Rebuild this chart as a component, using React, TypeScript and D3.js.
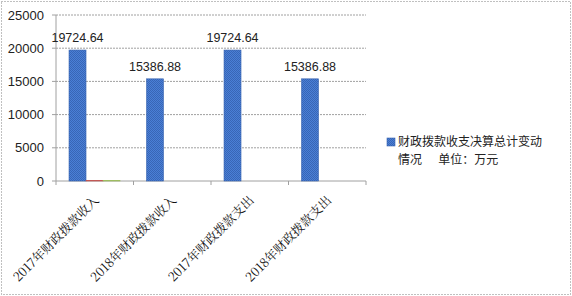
import React from "react";
import * as d3 from "d3";

const categories = ["2017年财政拨款收入", "2018年财政拨款收入", "2017年财政拨款支出", "2018年财政拨款支出"];
const seriesMain = [19724.64, 15386.88, 19724.64, 15386.88];
const seriesRed = [60, 0, 0, 0];
const seriesGreen = [50, 0, 0, 0];
const yTicks = [0, 5000, 10000, 15000, 20000, 25000];
const legendLines = ["财政拨款收支决算总计变动", "情况      单位：万元"];

const W = 572, H = 296;
const left = 56, right = 366, top = 15, bottom = 181;

export default function App() {
  const x = d3.scaleBand<string>().domain(categories).range([left, right]).paddingInner(0).paddingOuter(0);
  const y = d3.scaleLinear().domain([0, 25000]).range([bottom, top]);
  const bw = x.bandwidth();
  const inner = d3.scaleBand<number>().domain([0, 1, 2]).range([bw * 0.168, bw * 0.168 + 51]).padding(0);
  const series = [
    { values: seriesMain, fill: "#4677cf", stroke: "#3a64b0" },
    { values: seriesRed, fill: "#d07070", stroke: "#c0504d" },
    { values: seriesGreen, fill: "#a6c46a", stroke: "#9bbb59" },
  ];
  return (
    <svg width={W} height={H} style={{ position: "absolute", left: 0, top: 0, background: "#fff" }}>
      <defs>
        <pattern id="chk" width="2" height="2" patternUnits="userSpaceOnUse">
          <rect width="2" height="2" fill="#4a7fd6" />
          <rect width="1" height="1" fill="#3866b6" />
          <rect x="1" y="1" width="1" height="1" fill="#3866b6" />
        </pattern>
      </defs>
      <rect x={1.5} y={1.5} width={W - 3} height={H - 3} fill="none" stroke="#808080" strokeDasharray="1,2" />
      {yTicks.map((t) => (
        <g key={t}>
          {t > 0 && (
            <line x1={left} x2={right} y1={y(t)} y2={y(t)} stroke="#a0a0a0" strokeDasharray="2,1" />
          )}
          <line x1={left - 4} x2={left} y1={y(t)} y2={y(t)} stroke="#a0a0a0" />
          <text x={44} y={y(t)} dy="0.35em" textAnchor="end" fontFamily="'Liberation Sans', Arial, sans-serif" fontSize={13} fill="#222">
            {t}
          </text>
        </g>
      ))}
      <line x1={left} x2={left} y1={top} y2={bottom} stroke="#a0a0a0" />
      <line x1={left} x2={right} y1={bottom} y2={bottom} stroke="#a0a0a0" />
      {[...categories.map((c) => x(c)!), right].map((px, i) => (
        <line key={i} x1={px} x2={px} y1={bottom} y2={bottom + 4} stroke="#a0a0a0" />
      ))}
      {series.map((s, si) =>
        categories.map((c, ci) => {
          const v = s.values[ci];
          if (!v) return null;
          const bx = x(c)! + inner(si)!;
          return (
            <rect key={si + "-" + ci} x={bx} y={y(v)} width={inner.bandwidth()} height={bottom - y(v)}
              fill={si === 0 ? "url(#chk)" : s.fill} stroke={s.stroke} strokeWidth={0.6} />
          );
        })
      )}
      {categories.map((c, ci) => (
        <text key={c} x={x(c)! + inner(0)! + inner.bandwidth() / 2} y={y(seriesMain[ci]) - 8} textAnchor="middle"
          fontFamily="'Liberation Sans', Arial, sans-serif" fontSize={12.5} fill="#222">
          {seriesMain[ci].toFixed(2)}
        </text>
      ))}
      {categories.map((c) => {
        const cx = x(c)! + bw / 2 + 5;
        const cy = 201;
        return (
          <text key={c} x={cx} y={cy} textAnchor="end" transform={`rotate(-45 ${cx} ${cy})`}
            fontFamily="'Noto Serif CJK SC', 'Noto Sans CJK SC', serif" fontSize={12.6} fill="#111">
            {c}
          </text>
        );
      })}
      <rect x={387} y={138} width={8} height={8} fill="url(#chk)" stroke="#3a64b0" strokeWidth={0.6} />
      {legendLines.map((l, i) => (
        <text key={i} x={398} y={146 + i * 18} fontFamily="'Noto Sans CJK SC', sans-serif" fontSize={12} fill="#222"
          style={{ whiteSpace: "pre" }}>
          {l}
        </text>
      ))}
    </svg>
  );
}
